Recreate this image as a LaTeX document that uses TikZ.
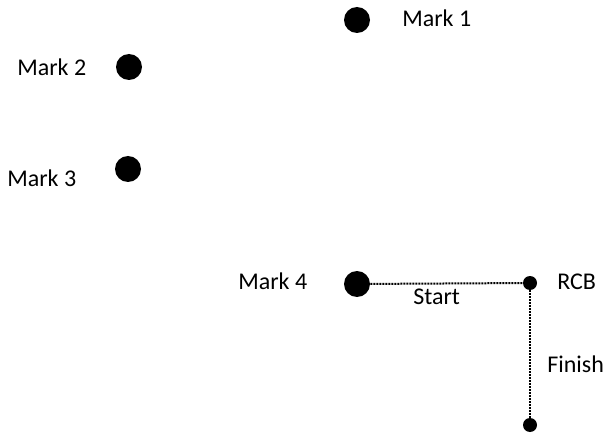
\documentclass[tikz,border=0pt]{standalone}
\usepackage{fontspec}
\setmainfont{Carlito}
\begin{document}
\begin{tikzpicture}[x=0.75pt,y=-0.75pt,
  bigdot/.style={circle,fill=black,inner sep=0pt,minimum size=19.5pt},
  smalldot/.style={circle,fill=black,inner sep=0pt,minimum size=10.5pt},
  lbl/.style={anchor=base west,inner sep=0pt,font=\fontsize{18}{21}\selectfont},
  route/.style={line width=1.5pt,dash pattern=on 1.5pt off 0.75pt}]
\useasboundingbox (0,0) rectangle (608,435);
\node[bigdot] (m1) at (357,20) {};
\node[bigdot] (m2) at (129,67) {};
\node[bigdot] (m3) at (128,169) {};
\node[bigdot] (m4) at (357,284) {};
\node[smalldot] (rcb) at (530,283) {};
\node[smalldot] (fin) at (530,425) {};
\node[lbl] (t1) at (402,27) {Mark 1};
\node[lbl] (t2) at (17,76) {Mark 2};
\node[lbl] (t3) at (7,186) {Mark 3};
\node[lbl] (t4) at (238,290) {Mark 4};
\node[lbl] (trcb) at (557,290) {RCB};
\node[lbl] (tstart) at (413,304) {Start};
\node[lbl] (tfin) at (547,372) {Finish};
\draw[route] (m4) -- (rcb);
\draw[route] (rcb) -- (fin);
\end{tikzpicture}
\end{document}
